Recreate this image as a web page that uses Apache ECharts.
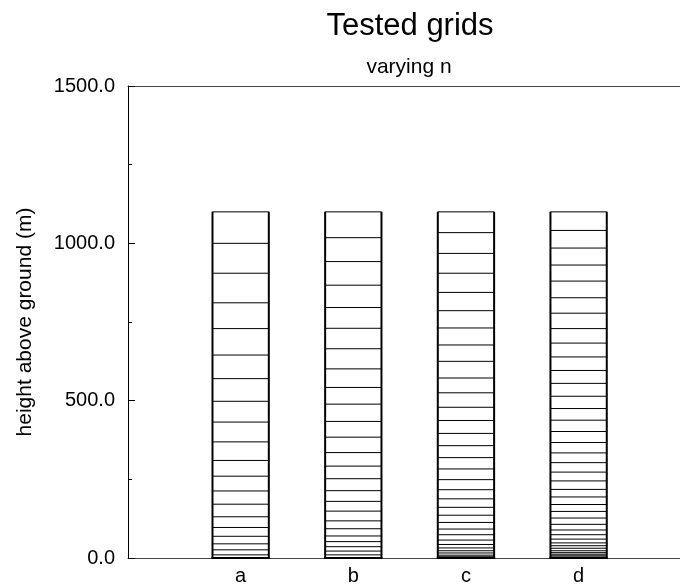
<!DOCTYPE html>
<html>
<head>
<meta charset="utf-8">
<script src="https://cdn.jsdelivr.net/npm/echarts@6/dist/echarts.min.js"></script>
<style>
  html, body { margin: 0; padding: 0; background: #fff; }
  #chart { width: 680px; height: 586px; }
</style>
</head>
<body>
<div id="chart"></div>
<script>
// Grid columns and the heights (m) of their level interfaces
const categories = ['a', 'b', 'c', 'd'];
const levelsA = [0, 10, 26, 45, 69, 97, 131, 171, 213, 260, 310, 369, 432, 498, 570, 645, 729, 811, 905, 1000, 1100];
const levelsB = [0, 10, 22, 36, 52, 70, 93, 118, 149, 180, 214, 252, 292, 335, 384, 434, 489, 542, 601, 665, 730, 796, 867, 942, 1018, 1100];
const levelsC = [0, 4, 9, 16, 23, 32, 43, 57, 74, 92, 113, 136, 161, 188, 217, 249, 283, 319, 357, 396, 437, 479, 525, 572, 625, 677, 731, 786, 844, 905, 968, 1034, 1100];
const levelsD = [0, 3, 7, 12, 17, 23, 31, 39, 48, 60, 74, 89, 107, 127, 148, 170, 194, 218, 245, 273, 303, 334, 367, 402, 438, 475, 514, 555, 596, 639, 683, 729, 778, 827, 880, 931, 985, 1041, 1100];
const yTickValues = [0, 500, 1000, 1500];

const allLevels = [levelsA, levelsB, levelsC, levelsD];
const HALF = 0.25;           // half column width in x-axis units
const FONT = '"Liberation Sans", Arial, Helvetica, sans-serif';

// one entry per interior/top interface: [column position, height]
const levelData = [];
allLevels.forEach((lv, i) => {
  lv.forEach(z => { if (z > 0) levelData.push([i + 1, z]); });
});
// one entry per column: [column position, top height]
const columnData = allLevels.map((lv, i) => [i + 1, lv[lv.length - 1]]);

function renderLevel(params, api) {
  const x = api.value(0), z = api.value(1);
  const p0 = api.coord([x - HALF, z]);
  const p1 = api.coord([x + HALF, z]);
  return {
    type: 'line',
    shape: { x1: p0[0], y1: p0[1], x2: p1[0], y2: p1[1] },
    style: { stroke: '#000', lineWidth: 1 }
  };
}

function renderColumn(params, api) {
  const x = api.value(0), top = api.value(1);
  const bl = api.coord([x - HALF, 0]);
  const br = api.coord([x + HALF, 0]);
  const tl = api.coord([x - HALF, top]);
  const tr = api.coord([x + HALF, top]);
  const st = { stroke: '#000', lineWidth: 2 };
  return {
    type: 'group',
    children: [
      { type: 'line', shape: { x1: bl[0], y1: bl[1], x2: tl[0], y2: tl[1] }, style: st },
      { type: 'line', shape: { x1: br[0], y1: br[1], x2: tr[0], y2: tr[1] }, style: st },
      { type: 'line', shape: { x1: bl[0] - 1, y1: bl[1], x2: br[0] + 1, y2: br[1] }, style: st }
    ]
  };
}

const chart = echarts.init(document.getElementById('chart'), null, { renderer: 'canvas' });
chart.setOption({
  backgroundColor: '#fff',
  animation: false,
  title: [
    {
      text: 'Tested grids',
      left: 405, top: 6, textAlign: 'center',
      textStyle: { fontFamily: FONT, fontSize: 31, fontWeight: 'normal', color: '#000' }
    },
    {
      text: 'varying n',
      left: 404, top: 52, textAlign: 'center',
      textStyle: { fontFamily: FONT, fontSize: 21, fontWeight: 'normal', color: '#000' }
    }
  ],
  grid: { left: 128, right: 0, top: 86, bottom: 26, containLabel: false },
  xAxis: [
    {
      type: 'value', min: 0, max: 4.9, interval: 1,
      splitLine: { show: false },
      axisTick: { show: false },
      axisLine: { show: true, lineStyle: { color: '#444', width: 1 } },
      axisLabel: {
        margin: 8, fontFamily: FONT, fontSize: 20, color: '#000',
        showMaxLabel: false, showMinLabel: false,
        formatter: v => (Number.isInteger(v) && v >= 1 && v <= categories.length) ? categories[v - 1] : ''
      }
    },
    {
      type: 'value', position: 'top', min: 0, max: 4.9,
      splitLine: { show: false }, axisTick: { show: false }, axisLabel: { show: false },
      axisLine: { show: true, lineStyle: { color: '#444', width: 1 } }
    }
  ],
  yAxis: {
    type: 'value', min: yTickValues[0], max: yTickValues[yTickValues.length - 1], interval: 500,
    name: 'height above ground (m)', nameLocation: 'middle', nameRotate: 90, nameGap: 92,
    nameTextStyle: { fontFamily: FONT, fontSize: 21, color: '#000' },
    splitLine: { show: false },
    axisLine: { show: true, lineStyle: { color: '#000', width: 1 } },
    axisTick: { show: true, inside: true, length: 7, lineStyle: { color: '#000' } },
    minorTick: { show: true, splitNumber: 2, length: 4, lineStyle: { color: '#000' } },
    axisLabel: {
      margin: 13, fontFamily: FONT, fontSize: 20, color: '#000',
      formatter: v => v.toFixed(1)
    }
  },
  series: [
    {
      type: 'custom', name: 'levels', xAxisIndex: 0, yAxisIndex: 0,
      renderItem: renderLevel, data: levelData, encode: { x: 0, y: 1 }, silent: true
    },
    {
      type: 'custom', name: 'columns', xAxisIndex: 0, yAxisIndex: 0,
      renderItem: renderColumn, data: columnData, encode: { x: 0, y: 1 }, silent: true
    }
  ]
});
</script>
</body>
</html>
